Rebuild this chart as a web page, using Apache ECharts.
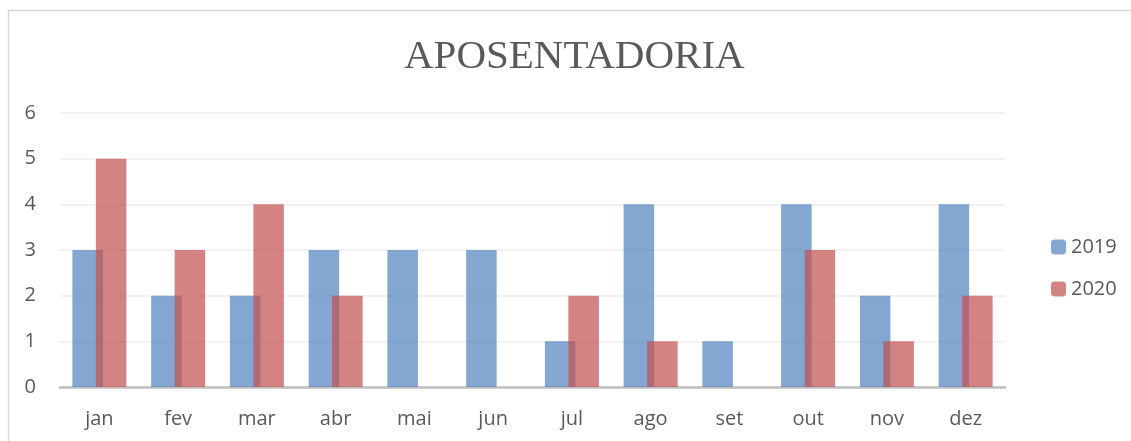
<!DOCTYPE html>
<html>
<head>
<meta charset="utf-8">
<script src="https://cdn.jsdelivr.net/npm/echarts@6/dist/echarts.min.js"></script>
<style>
  html, body { margin: 0; padding: 0; background: #fff; }
  #chart { width: 1131px; height: 441px; }
</style>
</head>
<body>
<div id="chart"></div>
<script>
const months = ["jan", "fev", "mar", "abr", "mai", "jun", "jul", "ago", "set", "out", "nov", "dez"];
const values2019 = [3, 2, 2, 3, 3, 3, 1, 4, 1, 4, 2, 4];
const values2020 = [5, 3, 4, 2, 0, 0, 2, 1, 0, 3, 1, 2];
const yTicks = [0, 1, 2, 3, 4, 5, 6];

const labelFont = "'Open Sans', 'Noto Sans', sans-serif";
const chart = echarts.init(document.getElementById("chart"));

chart.setOption({
  animation: false,
  graphic: [{
    type: "rect",
    shape: { x: 8.5, y: 10.5, width: 1300, height: 600 },
    style: { fill: "none", stroke: "#d9d9d9", lineWidth: 1.5 },
    silent: true
  }],
  title: {
    text: "APOSENTADORIA",
    left: 399,
    top: 32,
    textStyle: {
      fontFamily: "'Liberation Serif', 'DejaVu Serif', serif",
      fontSize: 41,
      fontWeight: "normal",
      color: "#595959"
    }
  },
  legend: {
    orient: "vertical",
    left: 1046,
    top: 232,
    itemWidth: 15,
    itemHeight: 15,
    itemGap: 22,
    data: ["2019", "2020"],
    textStyle: { fontFamily: labelFont, fontSize: 20, color: "#595959" }
  },
  grid: { left: 60, right: 126, top: 113, bottom: 54 },
  xAxis: {
    type: "category",
    data: months,
    axisLine: { lineStyle: { color: "#bfbfbf", width: 2.5 } },
    axisTick: { show: false },
    axisLabel: { fontFamily: labelFont, fontSize: 20, color: "#595959", margin: 22 }
  },
  yAxis: {
    type: "value",
    min: yTicks[0],
    max: yTicks[yTicks.length - 1],
    interval: 1,
    axisLine: { show: false },
    axisTick: { show: false },
    axisLabel: { fontFamily: labelFont, fontSize: 20, color: "#595959", margin: 24 },
    splitLine: { lineStyle: { color: "#eeeeee", width: 1.5 } }
  },
  series: [
    {
      name: "2019",
      type: "bar",
      data: values2019,
      barWidth: 30.5,
      barGap: "-23%",
      itemStyle: { color: "#4f81bd", opacity: 0.7 }
    },
    {
      name: "2020",
      type: "bar",
      data: values2020,
      barWidth: 30.5,
      barGap: "-23%",
      itemStyle: { color: "#c0504d", opacity: 0.7 }
    }
  ]
});
</script>
</body>
</html>
